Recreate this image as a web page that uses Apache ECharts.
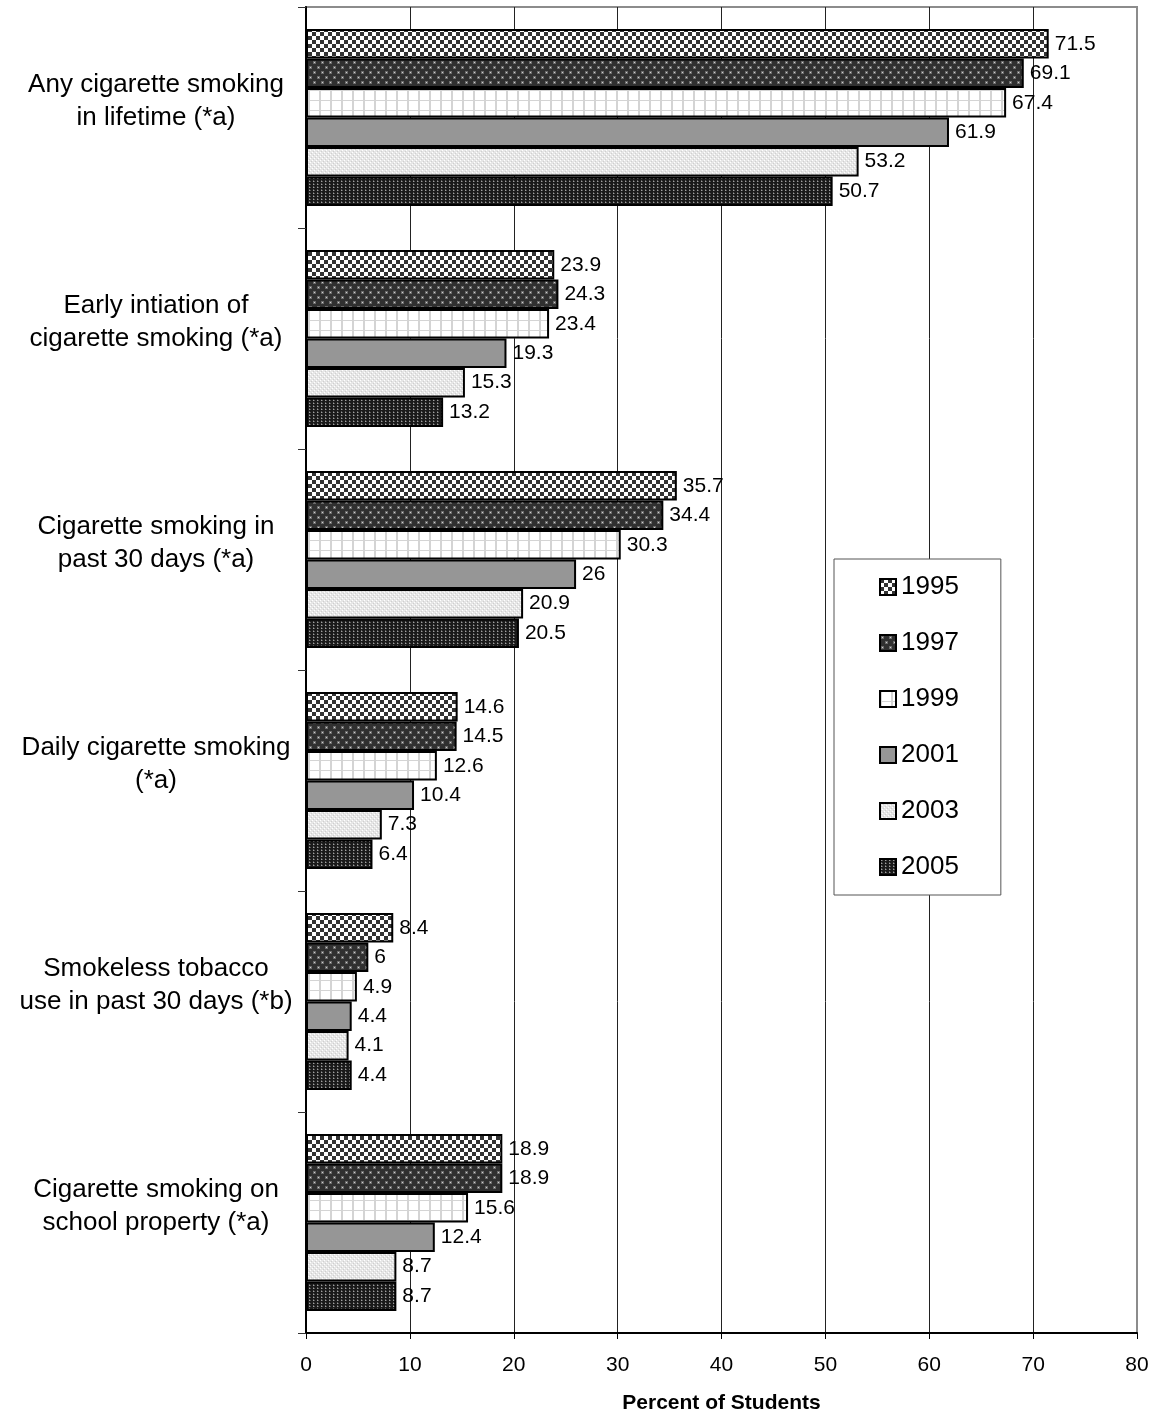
<!DOCTYPE html>
<html>
<head>
<meta charset="utf-8">
<script src="https://cdn.jsdelivr.net/npm/echarts@6/dist/echarts.min.js"></script>
<style>
  html, body { margin: 0; padding: 0; background: #fff; }
  #chart { width: 1165px; height: 1414px; }
</style>
</head>
<body>
<div id="chart"></div>
<script>
// Tobacco use indicators by survey year
const categories = [
  'Any cigarette smoking\nin lifetime (*a)',
  'Early intiation of\ncigarette smoking (*a)',
  'Cigarette smoking in\npast 30 days (*a)',
  'Daily cigarette smoking\n(*a)',
  'Smokeless tobacco\nuse in past 30 days (*b)',
  'Cigarette smoking on\nschool property (*a)'
];
const years = ['1995', '1997', '1999', '2001', '2003', '2005'];
const v1995 = [71.5, 23.9, 35.7, 14.6, 8.4, 18.9];
const v1997 = [69.1, 24.3, 34.4, 14.5, 6, 18.9];
const v1999 = [67.4, 23.4, 30.3, 12.6, 4.9, 15.6];
const v2001 = [61.9, 19.3, 26, 10.4, 4.4, 12.4];
const v2003 = [53.2, 15.3, 20.9, 7.3, 4.1, 8.7];
const v2005 = [50.7, 13.2, 20.5, 6.4, 4.4, 8.7];
const xTicks = [0, 10, 20, 30, 40, 50, 60, 70, 80];

const FONT = '"Liberation Sans", Arial, sans-serif';

// Small tiled fills for the monochrome bar patterns
function tile(w, h, draw) {
  const c = document.createElement('canvas');
  c.width = w; c.height = h;
  const g = c.getContext('2d');
  draw(g);
  return { image: c, repeat: 'repeat' };
}
const fills = [
  // checkerboard
  tile(8, 8, g => {
    g.fillStyle = '#fff'; g.fillRect(0, 0, 8, 8);
    g.fillStyle = '#333'; g.fillRect(0, 0, 4, 4); g.fillRect(4, 4, 4, 4);
  }),
  // dark with small light dots
  tile(8, 10, g => {
    g.fillStyle = '#303030'; g.fillRect(0, 0, 8, 10);
    g.fillStyle = '#6a6a6a'; g.fillRect(1, 1, 3, 3); g.fillRect(5, 6, 3, 3);
    g.fillStyle = '#d0d0d0'; g.fillRect(2, 2, 1, 1); g.fillRect(6, 7, 1, 1);
  }),
  // white grid
  tile(11, 10, g => {
    g.fillStyle = '#fff'; g.fillRect(0, 0, 11, 10);
    g.fillStyle = '#d4d4d4'; g.fillRect(0, 0, 2, 10); g.fillRect(0, 0, 11, 1);
  }),
  // solid grey
  '#969696',
  // light speckle
  tile(4, 4, g => {
    g.fillStyle = '#e6e6e6'; g.fillRect(0, 0, 4, 4);
    g.fillStyle = '#fff'; g.fillRect(0, 0, 1, 1); g.fillRect(2, 2, 1, 1);
    g.fillStyle = '#cfcfcf'; g.fillRect(1, 3, 1, 1); g.fillRect(3, 1, 1, 1);
  }),
  // dense dark dots in columns
  tile(4, 3, g => {
    g.fillStyle = '#1a1a1a'; g.fillRect(0, 0, 4, 3);
    g.fillStyle = '#a0a0a0'; g.fillRect(1, 1, 1, 1);
    g.fillStyle = '#555'; g.fillRect(2, 1, 1, 1); g.fillRect(1, 0, 1, 1);
  })
];

const values = [v1995, v1997, v1999, v2001, v2003, v2005];

const series = years.map((y, i) => ({
  name: y,
  type: 'bar',
  data: values[i],
  barGap: '0%',
  barCategoryGap: '20%',
  itemStyle: { color: fills[i], borderColor: '#000', borderWidth: 2 },
  label: {
    show: true,
    position: 'right',
    distance: 6,
    color: '#000',
    fontSize: 21,
    fontFamily: FONT
  },
  emphasis: { disabled: true }
}));

const chart = echarts.init(document.getElementById('chart'), null, { renderer: 'canvas' });
chart.setOption({
  animation: false,
  backgroundColor: '#fff',
  grid: {
    left: 306, right: 28, top: 7, bottom: 81,
    outerBoundsMode: 'none',
    containLabel: false,
    show: true, borderColor: '#8c8c8c', borderWidth: 2, backgroundColor: 'transparent'
  },
  legend: {
    orient: 'vertical',
    left: 834, top: 559,
    padding: [15, 42, 15, 45],
    itemGap: 30,
    itemWidth: 16, itemHeight: 16,
    itemTextGap: 5,
    icon: 'rect',
    backgroundColor: '#fff',
    borderColor: '#555',
    borderWidth: 1,
    selectedMode: false,
    textStyle: { fontSize: 26, fontFamily: FONT, color: '#000' },
    data: years
  },
  xAxis: {
    type: 'value',
    min: 0, max: 80, interval: 10,
    name: 'Percent of Students',
    nameLocation: 'middle',
    nameGap: 60,
    nameTextStyle: { fontSize: 21, fontWeight: 'bold', fontFamily: FONT, color: '#000' },
    axisLine: { show: true, lineStyle: { color: '#000', width: 2 } },
    axisTick: { show: true, length: 6, lineStyle: { color: '#000', width: 1 } },
    axisLabel: {
      fontSize: 21, fontFamily: FONT, color: '#000', margin: 22,
      formatter: v => (xTicks.includes(v) ? String(v) : '')
    },
    splitLine: {
      show: true, showMinLine: false, showMaxLine: false,
      lineStyle: { color: '#222', width: 1 }
    }
  },
  yAxis: {
    type: 'category',
    data: categories,
    inverse: true,
    axisLine: { show: true, lineStyle: { color: '#000', width: 2 } },
    axisTick: { show: true, length: 8, lineStyle: { color: '#333', width: 1 } },
    axisLabel: {
      fontSize: 26, fontFamily: FONT, color: '#000',
      align: 'center', margin: 150, lineHeight: 33,
      // trailing blank line lifts the two-line label slightly above the band centre
      formatter: v => v + '\n '
    },
    splitLine: { show: false }
  },
  series: series
});
</script>
</body>
</html>
